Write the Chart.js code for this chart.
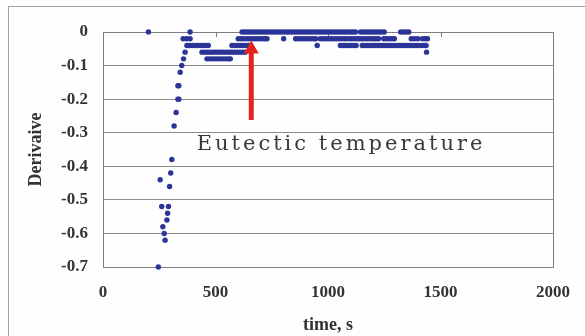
<!DOCTYPE html>
<html>
<head>
<meta charset="utf-8">
<script src="https://cdn.jsdelivr.net/npm/chart.js@4.4.0/dist/chart.umd.min.js"></script>
<style>
    html, body { margin: 0; padding: 0; background: #fefefe; overflow: hidden; }
    #frame { position: absolute; left: 8px; top: 6px; width: 640px; height: 400px; border: 1px solid #a0a0a0; }
    #wrap { position: absolute; left: 0; top: 0; width: 585px; height: 336px; }
</style>
</head>
<body>
<div id="frame"></div>
<div id="wrap"><canvas id="chart1"></canvas></div>
<script>
// time (s) of the samples, grouped by the derivative level they sit on
const timesAtZero = [202, 387, 618, 630, 641, 653, 665, 676, 688, 700, 712, 724, 735, 747, 759, 771, 782, 794, 806, 818,
    829, 841, 853, 865, 876, 888, 900, 912, 923, 935, 947, 959, 970, 982, 994, 1006, 1017, 1029, 1041, 1053, 1064,
    1076, 1088, 1100, 1111, 1122, 1145, 1157, 1168, 1180, 1192, 1204, 1215, 1227, 1239, 1250, 1323, 1335, 1347, 1359];
const timesAtM002 = [356, 372, 387, 601, 613, 625, 637, 649, 661, 673, 685, 697, 709, 720, 729, 803, 856, 868, 880, 892,
    904, 916, 928, 940, 945, 966, 978, 990, 1002, 1014, 1026, 1038, 1050, 1062, 1074, 1086, 1100, 1111, 1123, 1135,
    1147, 1158, 1172, 1184, 1196, 1206, 1216, 1225, 1248, 1260, 1272, 1284, 1295, 1370, 1384, 1399, 1420, 1431, 1442];
const timesAtM004 = [373, 385, 397, 409, 421, 433, 445, 457, 468, 573, 585, 597, 609, 621, 633, 645, 655, 952, 1055,
    1067, 1079, 1091, 1103, 1114, 1125, 1152, 1164, 1176, 1188, 1200, 1212, 1224, 1236, 1248, 1260, 1272, 1284, 1296,
    1308, 1320, 1332, 1344, 1356, 1368, 1380, 1392, 1404, 1416, 1428, 1436];
const timesAtM006 = [365, 440, 452, 464, 476, 488, 500, 512, 524, 536, 548, 560, 572, 584, 596, 608, 620, 632, 1438];
const timesAtM008 = [358, 462, 474, 486, 498, 510, 522, 534, 546, 558, 566];

// steep drop at the start
const dropTime = [246, 254, 261, 266, 272, 276, 284, 287, 291, 296, 301, 306, 316, 325, 333, 337, 333, 337, 343, 350];
const dropDeriv = [-0.70, -0.44, -0.52, -0.58, -0.60, -0.62, -0.56, -0.54, -0.52, -0.46, -0.42, -0.38, -0.28, -0.24,
    -0.20, -0.20, -0.16, -0.16, -0.12, -0.10];

const xTicks = [0, 500, 1000, 1500, 2000];
const yMin = -0.7, yMax = 0, yStep = 0.1;

// annotation: arrow and label (data coordinates)
const arrowX = 659, arrowFrom = -0.262, arrowTo = -0.025;
const noteText = 'Eutectic temperature';
const noteX = 1058, noteY = -0.351;

const points = [];
timesAtZero.forEach(t => points.push({ x: t, y: 0 }));
timesAtM002.forEach(t => points.push({ x: t, y: -0.02 }));
timesAtM004.forEach(t => points.push({ x: t, y: -0.04 }));
timesAtM006.forEach(t => points.push({ x: t, y: -0.06 }));
timesAtM008.forEach(t => points.push({ x: t, y: -0.08 }));
dropTime.forEach((t, i) => points.push({ x: t, y: dropDeriv[i] }));

const serif = "'Times New Roman', 'Liberation Serif', serif";
const axisGray = '#7e7e7e';

const plotFrame = {
    id: 'plotFrame',
    beforeDatasetsDraw(chart) {
        const ctx = chart.ctx;
        const a = chart.chartArea;
        const xs = chart.scales.x;
        ctx.save();
        ctx.strokeStyle = axisGray;
        ctx.lineWidth = 1;
        ctx.strokeRect(Math.round(a.left) + 0.5, Math.round(a.top) + 0.5,
            Math.round(a.right - a.left), Math.round(a.bottom - a.top));
        // small tick marks hanging from the zero line
        xTicks.forEach(v => {
            const px = Math.round(xs.getPixelForValue(v)) + 0.5;
            ctx.beginPath();
            ctx.moveTo(px, a.top);
            ctx.lineTo(px, a.top + 5);
            ctx.stroke();
        });
        ctx.restore();
    }
};

const annotation = {
    id: 'annotation',
    afterDatasetsDraw(chart) {
        const ctx = chart.ctx;
        const xs = chart.scales.x, ys = chart.scales.y;
        ctx.save();
        // red arrow
        const ax = xs.getPixelForValue(arrowX);
        const y0 = ys.getPixelForValue(arrowFrom);
        const y1 = ys.getPixelForValue(arrowTo);
        ctx.fillStyle = '#e3261d';
        ctx.fillRect(ax - 2.5, y1 + 12, 5, y0 - y1 - 12);
        ctx.beginPath();
        ctx.moveTo(ax, y1);
        ctx.lineTo(ax + 7.5, y1 + 13);
        ctx.lineTo(ax - 7.5, y1 + 13);
        ctx.closePath();
        ctx.fill();
        // label
        ctx.font = "21px 'DejaVu Serif', serif";
        ctx.letterSpacing = '3px';
        ctx.fillStyle = '#3a3a3a';
        ctx.textAlign = 'center';
        ctx.textBaseline = 'alphabetic';
        ctx.fillText(noteText, xs.getPixelForValue(noteX), ys.getPixelForValue(noteY));
        ctx.restore();
    }
};

const configScatter = {
    type: 'scatter',
    data: {
        datasets: [{
            label: 'Derivaive',
            data: points,
            backgroundColor: '#2b3598',
            borderWidth: 0,
            pointRadius: 2.7,
            pointHoverRadius: 2.7,
            clip: false
        }]
    },
    options: {
        responsive: true,
        maintainAspectRatio: false,
        animation: false,
        layout: { padding: { left: 0, right: 32, top: 32, bottom: 0 } },
        plugins: {
            legend: { display: false },
            tooltip: { enabled: false }
        },
        scales: {
            x: {
                type: 'linear',
                min: 0,
                max: 2000,
                afterFit: s => { s.height = 69; },
                afterBuildTicks: s => { s.ticks = xTicks.map(v => ({ value: v })); },
                grid: { display: false, drawTicks: false },
                border: { color: axisGray },
                ticks: {
                    padding: 15,
                    color: '#333333',
                    font: { family: serif, size: 17, weight: 'bold' },
                    callback: v => String(v)
                },
                title: {
                    display: true,
                    text: 'time, s',
                    color: '#333333',
                    padding: { top: 0, bottom: 0 },
                    font: { family: serif, size: 18, weight: 'bold', lineHeight: 1.2 }
                }
            },
            y: {
                min: yMin,
                max: yMax,
                afterFit: s => { s.width = 103; },
                grid: { color: '#8c8c8c', drawTicks: false },
                border: { color: axisGray },
                ticks: {
                    stepSize: yStep,
                    padding: 15,
                    color: '#333333',
                    font: { family: serif, size: 17, weight: 'bold' },
                    callback: v => Math.abs(v) < 1e-9 ? '0' : v.toFixed(1)
                },
                title: {
                    display: true,
                    text: 'Derivaive',
                    color: '#333333',
                    padding: { top: 26, bottom: 0 },
                    font: { family: serif, size: 18, weight: 'bold', lineHeight: 1.2 }
                }
            }
        }
    },
    plugins: [plotFrame, annotation]
};

const chartScatter = new Chart(
    document.getElementById('chart1'),
    configScatter
);
</script>
</body>
</html>
